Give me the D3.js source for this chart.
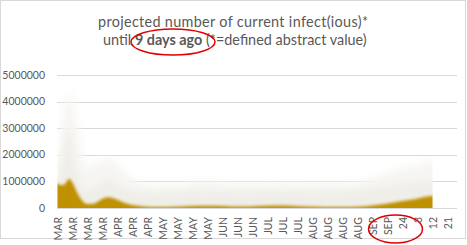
<!DOCTYPE html>
<html>
<head>
<meta charset="utf-8">
<script src="https://cdn.jsdelivr.net/npm/d3@7"></script>
<style>
  html, body { margin: 0; padding: 0; background: #fff; }
  svg { display: block; font-family: Lato, "Liberation Sans", sans-serif; }
</style>
</head>
<body>
<div id="chart"></div>
<script>
// tick labels of the date axis (every 9 days from 1 March)
const tickLabels = ["MAR","MAR","MAR","MAR","APR","APR","APR","MAY","MAY","MAY","MAY",
  "JUN","JUN","JUN","JUL","JUL","JUL","AUG","AUG","AUG","AUG","SEP","SEP","24","3","12","21"];
const yTicks = [0, 1000000, 2000000, 3000000, 4000000, 5000000];

// days since 1 March
const days = [0, 3, 5, 7, 9, 12, 15, 18, 22, 26, 30, 34, 40, 48, 56, 65, 75, 85, 95, 105,
  115, 125, 135, 145, 155, 165, 175, 185, 195, 205, 215, 225];
// counted infectious (gold)
const counted = [900000, 850000, 950000, 1100000, 950000, 550000, 260000, 150000, 170000, 310000,
  400000, 360000, 200000, 80000, 40000, 40000, 60000, 80000, 80000, 60000,
  60000, 80000, 90000, 70000, 50000, 40000, 40000, 70000, 140000, 240000, 340000, 450000];
// projected, inner band
const projectedLow = [1100000, 1800000, 2600000, 2900000, 2200000, 1300000, 800000, 650000, 750000, 950000,
  1050000, 950000, 750000, 600000, 580000, 600000, 620000, 650000, 640000, 620000,
  620000, 630000, 640000, 630000, 620000, 620000, 640000, 700000, 800000, 900000, 950000, 1000000];
// projected, outer band
const projectedHigh = [1900000, 3300000, 4000000, 4400000, 4000000, 3000000, 1900000, 1500000, 1600000, 1800000,
  1900000, 1750000, 1350000, 1000000, 850000, 850000, 900000, 1050000, 1000000, 950000,
  950000, 950000, 960000, 950000, 930000, 930000, 950000, 1050000, 1250000, 1450000, 1600000, 1750000];

const W = 467, H = 245;
const start = new Date(2020, 2, 1);
const addDays = d => new Date(start.getTime() + d * 864e5);

const x = d3.scaleTime().domain([start, addDays(239.7)]).range([57.5, 457]);
const y = d3.scaleLinear().domain([0, 5000000]).range([208, 75]);

const svg = d3.select("#chart").append("svg").attr("width", W).attr("height", H);

// chart frame
svg.append("rect").attr("x", 0.5).attr("y", 0.5).attr("width", 465).attr("height", 238)
  .attr("fill", "#fff").attr("stroke", "#d9d9d9");

const defs = svg.append("defs");
function blur(id, sd) {
  defs.append("filter").attr("id", id)
    .attr("x", "-10%").attr("y", "-30%").attr("width", "120%").attr("height", "160%")
    .append("feGaussianBlur").attr("stdDeviation", sd);
}
blur("soft", 4.5);
blur("soft2", 3);
blur("soft3", 1.8);
defs.append("clipPath").attr("id", "plotClip").append("rect")
  .attr("x", x(addDays(0))).attr("y", 60)
  .attr("width", x(addDays(days[days.length - 1])) - x(addDays(0)))
  .attr("height", y(0) - 60);

// gridlines
svg.append("g").selectAll("line").data(yTicks).join("line")
  .attr("x1", 57).attr("x2", 457)
  .attr("y1", d => Math.round(y(d)) + 0.5).attr("y2", d => Math.round(y(d)) + 0.5)
  .attr("stroke", "#d9d9d9").attr("stroke-width", 1);

// pad the series a little beyond both ends so the blur does not fade the clipped edges
function padded(vals) {
  const pts = days.map((d, i) => [d, vals[i]]);
  return [[-8, vals[0]], ...pts, [days[days.length - 1] + 8, vals[vals.length - 1]]];
}
const area = d3.area()
  .x(p => x(addDays(p[0])))
  .y0(y(0) + 20)
  .y1(p => y(p[1]))
  .curve(d3.curveMonotoneX);

const plot = svg.append("g").attr("clip-path", "url(#plotClip)");
plot.append("path").attr("d", area(padded(projectedHigh)))
  .attr("fill", "#f6f5f2").attr("filter", "url(#soft)");
plot.append("path").attr("d", area(padded(projectedLow)))
  .attr("fill", "#f0eee8").attr("filter", "url(#soft2)");
plot.append("path").attr("d", area(padded(counted)))
  .attr("fill", "#bf9000").attr("filter", "url(#soft3)");

// baseline
svg.append("line").attr("x1", 57).attr("x2", 457)
  .attr("y1", Math.round(y(0)) + 0.5).attr("y2", Math.round(y(0)) + 0.5)
  .attr("stroke", "#d9d9d9");

// y axis labels
svg.append("g").selectAll("text").data(yTicks).join("text")
  .attr("x", 45).attr("y", d => y(d)).attr("dy", "0.35em")
  .attr("text-anchor", "end")
  .style("font-size", "10.5px").attr("fill", "#595959")
  .text(d => d);

// x axis labels (rotated)
svg.append("g").selectAll("text").data(tickLabels).join("text")
  .attr("transform", (d, i) => `translate(${x(addDays(i * 9)) + 0.5},217) rotate(-90)`)
  .attr("dy", "0.35em")
  .attr("text-anchor", "end")
  .style("font-size", "10.5px").attr("fill", "#595959")
  .text(d => d);

// title
const title = svg.append("text").attr("fill", "#595959").style("font-size", "14.4px");
title.append("tspan").attr("x", 98).attr("y", 27)
  .attr("textLength", 270).attr("lengthAdjust", "spacing")
  .text("projected number of current infect(ious)*");
const l2 = title.append("tspan").attr("x", 103).attr("y", 45);
l2.append("tspan").text("until ");
l2.append("tspan").style("font-weight", "bold").text("9 days ago");
l2.append("tspan").text(" (*=defined abstract value)");

// red annotation ellipses
svg.append("ellipse").attr("cx", 173).attr("cy", 42).attr("rx", 42).attr("ry", 13)
  .attr("fill", "none").attr("stroke", "#e00000").attr("stroke-width", 1.5);
svg.append("ellipse").attr("cx", (x(addDays(21 * 9)) + x(addDays(23 * 9))) / 2 + 8).attr("cy", 229)
  .attr("rx", 27).attr("ry", 14)
  .attr("fill", "none").attr("stroke", "#e00000").attr("stroke-width", 1.5);
</script>
</body>
</html>
